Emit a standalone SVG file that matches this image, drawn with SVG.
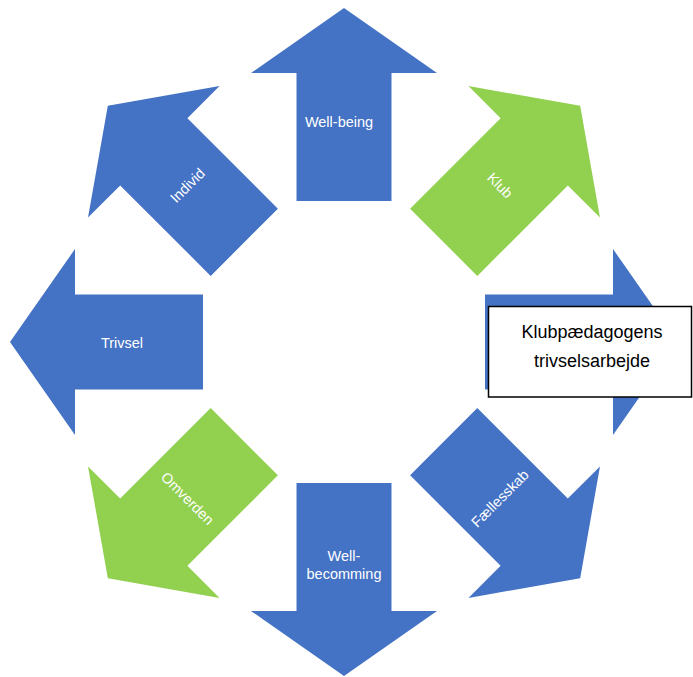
<svg xmlns="http://www.w3.org/2000/svg" xmlns:xlink="http://www.w3.org/1999/xlink" width="693" height="677" viewBox="0 0 693 677">
<style>
.blue{fill:#4472C4}
.green{fill:#92D050}
.lbl{font-family:"Liberation Sans",Arial,sans-serif;font-size:14.5px;fill:#ffffff;text-anchor:middle}
.box{fill:#ffffff;stroke:#000000;stroke-width:1.5}
.boxtxt{font-family:"Liberation Sans",Arial,sans-serif;font-size:18px;fill:#000000;text-anchor:middle}
</style>
<defs>
<path id="arrow" d="M344,8 L437,73 L391.5,73 L391.5,201 L296.5,201 L296.5,73 L251,73 Z"/>
</defs>
<rect width="693" height="677" fill="#ffffff"/>
<g id="connectors"></g>
<g id="well-being">
<use xlink:href="#arrow" class="blue"/>
<text class="lbl" x="339" y="127">Well-being</text>
</g>
<g id="klub">
<use xlink:href="#arrow" class="green" transform="rotate(45 344 342)"/>
<text class="lbl" transform="translate(500 185.5) rotate(45)" y="5">Klub</text>
</g>
<g id="faellesskab">
<use xlink:href="#arrow" class="blue" transform="rotate(135 344 342)"/>
<text class="lbl" transform="translate(500 498.5) rotate(-45)" y="5">Fællesskab</text>
</g>
<g id="well-becomming">
<use xlink:href="#arrow" class="blue" transform="rotate(180 344 342)"/>
<text class="lbl" x="344" y="561">Well-</text>
<text class="lbl" x="344" y="578.5">becomming</text>
</g>
<g id="omverden">
<use xlink:href="#arrow" class="green" transform="rotate(225 344 342)"/>
<text class="lbl" transform="translate(187.5 498.5) rotate(45)" y="5">Omverden</text>
</g>
<g id="trivsel">
<use xlink:href="#arrow" class="blue" transform="rotate(270 344 342)"/>
<text class="lbl" x="122" y="348">Trivsel</text>
</g>
<g id="individ">
<use xlink:href="#arrow" class="blue" transform="rotate(315 344 342)"/>
<text class="lbl" transform="translate(187.5 185.5) rotate(-45)" y="5">Individ</text>
</g>
<g id="right-arrow">
<use xlink:href="#arrow" class="blue" transform="rotate(90 344 342)"/>
</g>
<g id="klubpaedagogens">
<rect class="box" x="488.5" y="306.5" width="203" height="90.5"/>
<text class="boxtxt" x="592" y="337.5">Klubpædagogens</text>
<text class="boxtxt" x="592" y="366.5">trivselsarbejde</text>
</g>
</svg>
